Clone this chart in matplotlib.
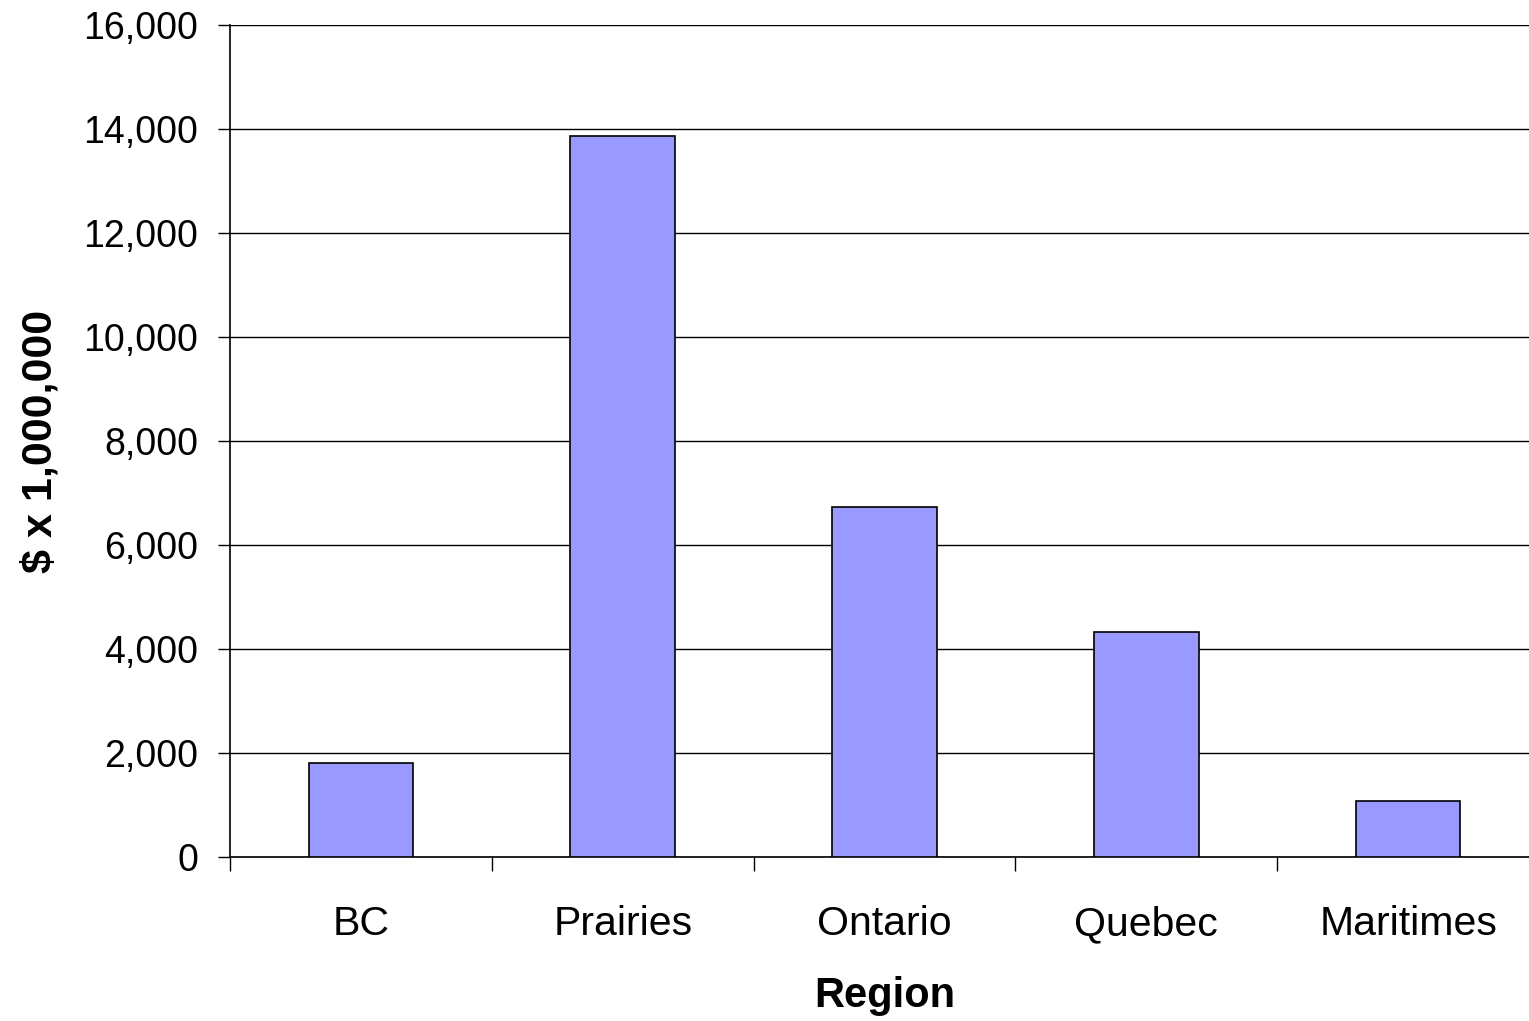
import matplotlib.pyplot as plt
import numpy as np
from matplotlib.ticker import FuncFormatter

# regional totals, millions of dollars
regions = ['BC', 'Prairies', 'Ontario', 'Quebec', 'Maritimes']
amounts = [1800, 13860, 6730, 4330, 1070]

plt.rcParams['font.family'] = ['Liberation Sans', 'DejaVu Sans']

fig = plt.figure(figsize=(15.29, 10.21), dpi=100)
ax = fig.add_axes([230 / 1529, 164 / 1021, 1309 / 1529, 832 / 1021])

x = np.arange(len(regions)) + 0.5
ax.bar(x, amounts, width=0.4, color='#9999ff', edgecolor='black', linewidth=1.2, zorder=3)

ax.set_xlim(0, len(regions))
ax.set_ylim(0, 16000)
ax.set_yticks(np.arange(0, 16001, 2000))
ax.yaxis.set_major_formatter(FuncFormatter(lambda v, p: f'{int(v):,}'))
ax.grid(axis='y', color='black', linewidth=1, zorder=0)

# category separators as ticks under the axis
ax.set_xticks(np.arange(0, len(regions) + 1))
ax.set_xticklabels([])
ax.tick_params(axis='x', length=10, width=1, direction='out')
ax.tick_params(axis='y', length=9, width=1, direction='out', pad=14, labelsize=27)

# region names centred under the bars, all on one baseline
for xi, name in zip(x, regions):
    ax.text(xi, -78 / 832, name, transform=ax.get_xaxis_transform(),
            ha='center', va='baseline', fontsize=29.5)

for side in ['top', 'right']:
    ax.spines[side].set_visible(False)
ax.spines['left'].set_linewidth(1.2)
ax.spines['bottom'].set_linewidth(1.2)

ax.set_xlabel('Region', fontsize=30, fontweight='bold', va='baseline')
ax.xaxis.set_label_coords(0.5, -150 / 832)
ax.set_ylabel('$ x 1,000,000', fontsize=31, fontweight='bold', labelpad=16)

fig.savefig('out.png', dpi=100)
